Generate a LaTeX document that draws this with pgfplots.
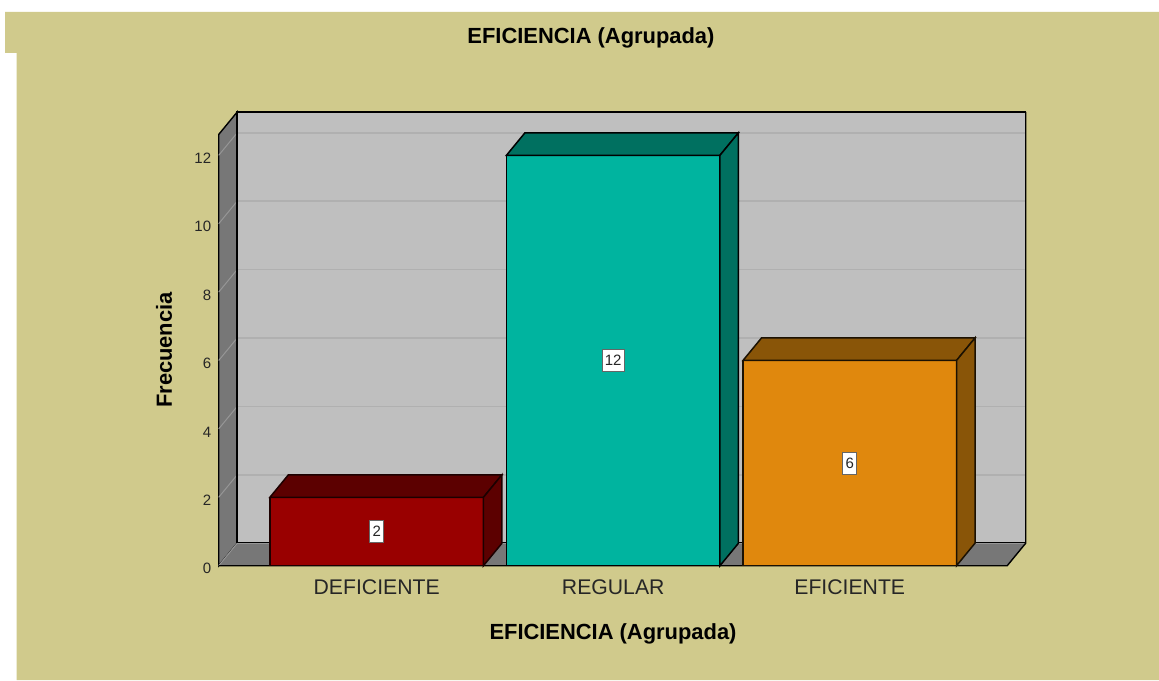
\documentclass[border=0pt]{standalone}
\usepackage{pgfplots}
\usepackage{fontspec}
\setmainfont{Liberation Sans}
\pgfplotsset{compat=1.18}
\definecolor{khaki}{RGB}{208,202,140}
\definecolor{wall}{RGB}{191,191,191}
\definecolor{sidegray}{RGB}{119,119,119}
\definecolor{gridc}{RGB}{176,176,176}
\definecolor{tickc}{RGB}{150,150,150}
\definecolor{redf}{RGB}{153,0,0}
\definecolor{redd}{RGB}{92,0,0}
\definecolor{tealf}{RGB}{0,180,159}
\definecolor{teald}{RGB}{0,112,96}
\definecolor{orgf}{RGB}{224,136,13}
\definecolor{orgd}{RGB}{137,85,8}
\begin{document}
\begin{tikzpicture}[x=1pt,y=1pt]
\useasboundingbox (0,0) rectangle (1159,680);
\fill[white] (0,0) rectangle (1159,680);
\fill[khaki] (5,668) -- (1159,668) -- (1159,0) -- (16.5,0) -- (16.5,627) -- (5,627) -- cycle;
\begin{axis}[
  at={(218.7pt,114.3pt)}, anchor=south west,
  scale only axis, width=807pt, height=453.7pt,
  xmin=-0.668, xmax=2.744, ymin=0, ymax=13.266,
  clip=false,
  axis line style={draw=none},
  major tick length=0pt,
  xtick={0,1,2},
  xticklabels={DEFICIENTE,REGULAR,EFICIENTE},
  ytick={0,2,4,6,8,10,12},
  /pgf/number format/assume math mode=true,
  xticklabel style={font=\fontsize{21.2}{24}\selectfont, color=black!85, anchor=center, yshift=-22pt},
  yticklabel style={font=\fontsize{15}{18}\selectfont, color=black!85, anchor=east, xshift=-4pt, yshift=-3pt},
  title={\textbf{EFICIENCIA (Agrupada)}},
  title style={font=\fontsize{21.9}{24}\selectfont, at={(axis description cs:0.4613,1.1495)}, anchor=center},
  xlabel={\textbf{EFICIENCIA (Agrupada)}},
  xlabel style={font=\fontsize{21.9}{24}\selectfont, at={(axis description cs:0.4886,-0.150)}, anchor=center},
  ylabel={\textbf{Frecuencia}},
  ylabel style={font=\fontsize{21.9}{24}\selectfont, at={(axis description cs:-0.0678,0.4754)}, anchor=center, rotate=0},
]
% back wall
\addplot[fill=wall, draw=black, line width=1.4pt] coordinates {(-0.5898,0.658) (2.744,0.658) (2.744,13.266) (-0.5898,13.266)} --cycle;
% wall grid
\addplot[gridc, line width=1.5pt] coordinates {(-0.5898,2.658) (2.744,2.658)};
\addplot[gridc, line width=1.5pt] coordinates {(-0.5898,4.658) (2.744,4.658)};
\addplot[gridc, line width=1.5pt] coordinates {(-0.5898,6.658) (2.744,6.658)};
\addplot[gridc, line width=1.5pt] coordinates {(-0.5898,8.658) (2.744,8.658)};
\addplot[gridc, line width=1.5pt] coordinates {(-0.5898,10.658) (2.744,10.658)};
\addplot[gridc, line width=1.5pt] coordinates {(-0.5898,12.658) (2.744,12.658)};
% left wall
\addplot[fill=sidegray, draw=black, line width=1.4pt] coordinates {(-0.668,0) (-0.5898,0.658) (-0.5898,13.266) (-0.668,12.608)} --cycle;
\addplot[tickc, line width=1pt] coordinates {(-0.668,2) (-0.5898,2.658)};
\addplot[tickc, line width=1pt] coordinates {(-0.668,4) (-0.5898,4.658)};
\addplot[tickc, line width=1pt] coordinates {(-0.668,6) (-0.5898,6.658)};
\addplot[tickc, line width=1pt] coordinates {(-0.668,8) (-0.5898,8.658)};
\addplot[tickc, line width=1pt] coordinates {(-0.668,10) (-0.5898,10.658)};
\addplot[tickc, line width=1pt] coordinates {(-0.668,12) (-0.5898,12.658)};
% floor
\addplot[fill=sidegray, draw=none] coordinates {(-0.668,0) (-0.5898,0.658) (2.744,0.658) (2.6658,0)} --cycle;
\addplot[tickc, line width=1pt] coordinates {(-0.5898,0.658) (2.744,0.658)};
\addplot[tickc, line width=1pt] coordinates {(-0.668,0) (-0.5898,0.658)};
\addplot[black, line width=1.4pt] coordinates {(-0.668,0) (2.6658,0) (2.744,0.658) (2.744,13.266)};
\addplot[black, line width=1.4pt] coordinates {(-0.5898,0.658) (-0.5898,13.266)};
% bar 0
\addplot[ybar, bar shift=0pt, bar width=0.9027, fill=redf, draw=black!70!redd, line width=1.5pt] coordinates {(0,2)};
\addplot[fill=redd, draw=black!70!redd, line width=1.5pt] coordinates {(-0.4514,2) (-0.3732,2.658) (0.5296,2.658) (0.4514,2)} --cycle;
\addplot[fill=redd, draw=black!70!redd, line width=1.5pt] coordinates {(0.4514,0) (0.5296,0.658) (0.5296,2.658) (0.4514,2)} --cycle;
% bar 1
\addplot[ybar, bar shift=0pt, bar width=0.9027, fill=tealf, draw=black, line width=1.5pt] coordinates {(1,12)};
\addplot[fill=teald, draw=black, line width=1.5pt] coordinates {(0.5486,12) (0.6268,12.658) (1.5296,12.658) (1.4514,12)} --cycle;
\addplot[fill=teald, draw=black, line width=1.5pt] coordinates {(1.4514,0) (1.5296,0.658) (1.5296,12.658) (1.4514,12)} --cycle;
% bar 2
\addplot[ybar, bar shift=0pt, bar width=0.9027, fill=orgf, draw=black!80!orgd, line width=1.5pt] coordinates {(2,6)};
\addplot[fill=orgd, draw=black!80!orgd, line width=1.5pt] coordinates {(1.5486,6) (1.6268,6.658) (2.5296,6.658) (2.4514,6)} --cycle;
\addplot[fill=orgd, draw=black!80!orgd, line width=1.5pt] coordinates {(2.4514,0) (2.5296,0.658) (2.5296,6.658) (2.4514,6)} --cycle;
% value labels
\addplot[only marks, mark=none, point meta=explicit symbolic, nodes near coords,
  nodes near coords style={anchor=center, fill=white, draw=black!60, line width=1pt, font=\fontsize{15}{18}\selectfont, text=black!85, inner xsep=2.6pt, inner ysep=0pt, minimum height=22pt}]
  coordinates {(0,1)[2] (1,6)[12] (2,3)[6]};
\end{axis}
\end{tikzpicture}
\end{document}
